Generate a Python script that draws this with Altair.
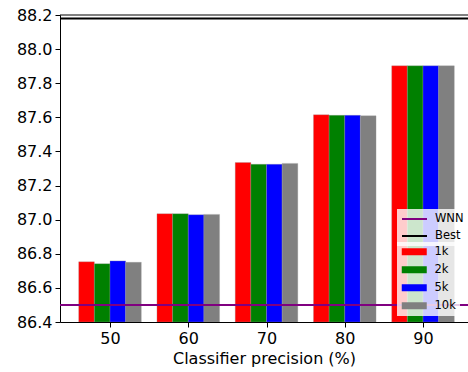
import altair as alt
import pandas as pd

# ---------------- data ----------------
categories = ["50", "60", "70", "80", "90"]
series = ["1k", "2k", "5k", "10k"]
vals_1k = [86.753, 87.035, 87.335, 87.615, 87.902]
vals_2k = [86.742, 87.035, 87.325, 87.612, 87.902]
vals_5k = [86.758, 87.029, 87.325, 87.612, 87.902]
vals_10k = [86.750, 87.031, 87.330, 87.609, 87.902]
line_names = ["WNN", "Best"]
line_values = [86.5, 88.18]
y_ticks = [86.4, 86.6, 86.8, 87.0, 87.2, 87.4, 87.6, 87.8, 88.0, 88.2]
series_colors = ["red", "green", "blue", "gray"]
line_colors = ["purple", "black"]

# ---------------- tables ----------------
all_vals = [vals_1k, vals_2k, vals_5k, vals_10k]
bar_w = 0.2
rows = []
for j, s in enumerate(series):
    for i, c in enumerate(categories):
        x0 = i + (j - len(series) / 2) * bar_w
        rows.append({"cat": c, "series": s, "value": all_vals[j][i],
                     "x0": x0, "x1": x0 + bar_w})
bar_df = pd.DataFrame(rows)
line_df = pd.DataFrame({"line": line_names, "value": line_values})
spine_df = pd.DataFrame({"v": [y_ticks[-1]]})

x_dom = [-0.639, 4.575]
x_scale = alt.Scale(domain=x_dom, nice=False, zero=False)
y_scale = alt.Scale(domain=[y_ticks[0], y_ticks[-1]], nice=False, zero=False)
fill_scale = alt.Scale(domain=series, range=series_colors)
stroke_scale = alt.Scale(domain=line_names, range=line_colors)

label_expr = "[" + ",".join("'%s'" % c for c in categories) + "][datum.value]"

y_axis = alt.Axis(values=y_ticks, format=".1f", title=None, grid=False,
                  labelFontSize=16, tickSize=5, labelPadding=3,
                  labelOverlap=False, labelFont="DejaVu Sans", labelColor="black",
                  domainColor="black", tickColor="black")

common_legend = dict(
    title=None, orient="none", legendX=337,
    fillColor="rgba(255,255,255,0.8)", cornerRadius=0,
    labelFont="DejaVu Sans", labelFontSize=11.5, labelColor="black",
    symbolSize=100, labelOffset=22, rowPadding=5,
)
line_legend = alt.Legend(legendY=194, symbolType="M-1,0H4", symbolStrokeWidth=2,
                         padding=4, **common_legend)
bar_legend = alt.Legend(legendY=227, symbolType="M-1,-0.7H4V0.7H-1Z",
                        symbolStrokeWidth=0, padding=4, **common_legend)

bars = alt.Chart(bar_df).mark_bar(
    stroke="#999999", strokeWidth=0.5, strokeOpacity=0.6, clip=True
).encode(
    x=alt.X("x0:Q", scale=x_scale,
            axis=alt.Axis(values=list(range(len(categories))), labelExpr=label_expr,
                          title="Classifier precision (%)", grid=False,
                          labelFontSize=16, titleFontSize=16, tickSize=5,
                          labelPadding=3, titlePadding=4, titleFontWeight="normal",
                          labelOverlap=False)),
    x2="x1:Q",
    y=alt.Y("value:Q", scale=y_scale, axis=y_axis),
    y2=alt.datum(y_ticks[0]),
    fill=alt.Fill("series:N", scale=fill_scale, legend=bar_legend),
)

rules = alt.Chart(line_df).mark_rule(strokeWidth=2).encode(
    y=alt.Y("value:Q", scale=y_scale, axis=y_axis),
    stroke=alt.Stroke("line:N", scale=stroke_scale, legend=line_legend),
)

spine = alt.Chart(spine_df).mark_rule(color="black", strokeWidth=1).encode(
    y=alt.Y("v:Q", scale=y_scale, axis=y_axis)
)

chart = alt.layer(bars, rules, spine).resolve_scale(
    fill="independent", stroke="independent"
).properties(
    width=408, height=307,
    autosize=alt.AutoSizeParams(type="none"),
    padding={"left": 60, "top": 15, "right": 0, "bottom": 50},
).configure_view(stroke=None).configure_axis(
    labelFont="DejaVu Sans", titleFont="DejaVu Sans",
    labelColor="black", titleColor="black", labelFontSize=16, titleFontSize=16,
    domainColor="black", tickColor="black", domainWidth=1, tickWidth=1,
)

chart.save("out.html", embed_options={"renderer": "svg", "actions": False})
